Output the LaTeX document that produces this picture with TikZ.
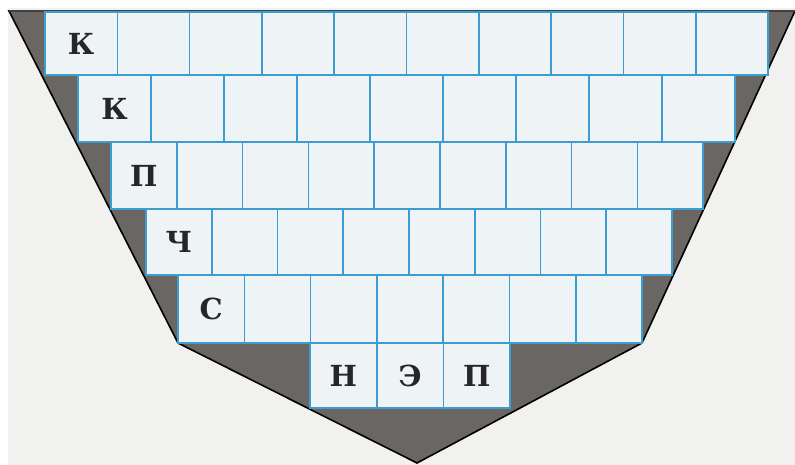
\documentclass[tikz,border=0pt]{standalone}
\usepackage{fontspec}
\setmainfont{DejaVu Serif}
\definecolor{paper}{HTML}{F1F1EF}
\definecolor{funnel}{HTML}{6A6664}
\definecolor{cellfill}{HTML}{EEF3F5}
\definecolor{cellblue}{HTML}{3E9DD0}
\definecolor{ink}{HTML}{262626}
\begin{document}
\begin{tikzpicture}[x=1pt,y=-1pt,
  cell/.style={draw=cellblue, line width=1.6pt, fill=cellfill, inner sep=0pt,
    text=ink, font=\bfseries\fontsize{29}{29}\selectfont},
  outline/.style={fill=funnel, draw=black, line width=1.6pt, line join=miter},
  topline/.style={draw=black!75, line width=2.5pt}]
\useasboundingbox (0,0) rectangle (795,465);
\fill[white] (0,0) rectangle (795,465);
\fill[paper] (8,8) rectangle (795,465);
\coordinate (tl) at (9,11);
\coordinate (tr) at (795,11);
\coordinate (kr) at (642,343);
\coordinate (ap) at (417,463);
\coordinate (kl) at (178,343);
\filldraw[outline] (tl) -- (tr) -- (kr) -- (ap) -- (kl) -- cycle;
\draw[topline] (tl) -- (tr);
\foreach \r/\lx/\ty/\w/\h/\n/\L in {1/45/12/72.3/63/10/К, 2/78/75/73/67/9/К, 3/111/142/65.8/67/9/П, 4/146/209/65.75/66/8/Ч, 5/178/275/66.3/68/7/С}{
  \foreach \i in {1,...,\n}{
    \node[cell, minimum width=\w pt, minimum height=\h pt] (c\r-\i) at ({\lx+(\i-0.5)*\w},{\ty+\h/2}) {\ifnum\i=1 \L\fi};
  }
}
\node[cell, minimum width=66.7pt, minimum height=65pt] (c6-1) at (343.35,375.5) {Н};
\node[cell, minimum width=66.7pt, minimum height=65pt] (c6-2) at (410.05,375.5) {Э};
\node[cell, minimum width=66.7pt, minimum height=65pt] (c6-3) at (476.75,375.5) {П};
\end{tikzpicture}
\end{document}
